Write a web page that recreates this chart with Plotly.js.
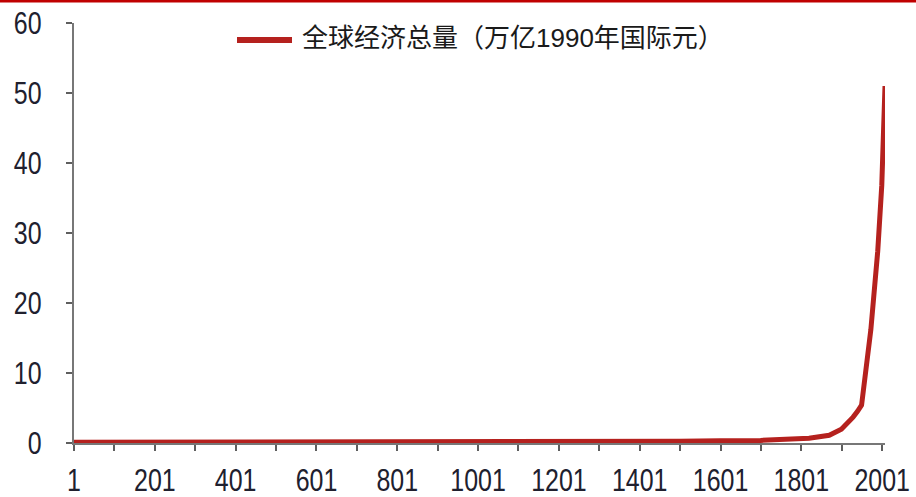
<!DOCTYPE html>
<html>
<head>
<meta charset="utf-8">
<script src="https://cdn.plot.ly/plotly-3.0.1.min.js"></script>
<style>
  html, body { margin: 0; padding: 0; background: #fff; }
  #chart { width: 916px; height: 497px; }
</style>
</head>
<body>
<div id="chart"></div>
<script>
// World GDP, trillions of 1990 international dollars
const years = [1, 1000, 1500, 1600, 1700, 1820, 1870, 1900, 1913, 1929, 1940, 1950, 1973, 1980, 1990, 2000, 2003, 2008];
const gdp   = [0.105, 0.121, 0.248, 0.331, 0.371, 0.694, 1.101, 1.973, 2.705, 3.696, 4.514, 5.4, 16.2, 20.3, 27.4, 36.8, 40.9, 51.0];

const seriesName = '全球经济总量（万亿1990年国际元）';

// x ticks every 100 years, labelled every 200
const tickYears = [1, 101, 201, 301, 401, 501, 601, 701, 801, 901, 1001, 1101, 1201, 1301, 1401, 1501, 1601, 1701, 1801, 1901, 2001];
const tickLabels = ['1', '', '201', '', '401', '', '601', '', '801', '', '1001', '', '1201', '', '1401', '', '1601', '', '1801', '', '2001'];
const yTicks = [0, 10, 20, 30, 40, 50, 60];

const lineColor = '#B5211E';
const numFont = 'Liberation Sans, Arial, sans-serif';
const labelSqueeze = 0.78; // horizontal condensing of the tick numerals

const trace = {
  x: years,
  y: gdp,
  type: 'scatter',
  mode: 'lines',
  name: seriesName,
  line: { color: lineColor, width: 5 },
  showlegend: false,
  hoverinfo: 'x+y'
};

const layout = {
  width: 916,
  height: 497,
  margin: { l: 74, r: 31, t: 23, b: 54 },
  paper_bgcolor: '#ffffff',
  plot_bgcolor: '#ffffff',
  showlegend: false,
  xaxis: {
    range: [1, 2008],
    tickmode: 'array',
    tickvals: tickYears,
    ticktext: tickLabels,
    ticks: 'outside',
    ticklen: 6,
    tickwidth: 2,
    tickcolor: '#5e5e5e',
    showline: true,
    linecolor: '#777777',
    linewidth: 2,
    showgrid: false,
    zeroline: false,
    ticklabelstandoff: 2,
    ticklabeloverflow: 'allow',
    tickfont: { family: numFont, size: 32, color: '#20202e' }
  },
  yaxis: {
    range: [0, 60],
    tickmode: 'array',
    tickvals: yTicks,
    ticks: 'outside',
    ticklen: 6,
    tickwidth: 2,
    tickcolor: '#5e5e5e',
    showline: true,
    linecolor: '#777777',
    linewidth: 2,
    showgrid: false,
    zeroline: false,
    ticklabelstandoff: 18,
    ticklabeloverflow: 'allow',
    tickfont: { family: numFont, size: 32, color: '#20202e' }
  },
  shapes: [
    // red rule along the top edge
    { type: 'line', xref: 'paper', yref: 'paper', x0: -0.0913, x1: 1.0395, y0: 1.0524, y1: 1.0524,
      line: { color: '#C00000', width: 3 } },
    // legend swatch
    { type: 'line', xref: 'paper', yref: 'paper', x0: 0.201, x1: 0.2688, y0: 0.9595, y1: 0.9595,
      line: { color: lineColor, width: 6 } }
  ],
  annotations: [
    { text: seriesName, xref: 'paper', yref: 'paper', x: 0.2787, y: 0.9645,
      xanchor: 'left', yanchor: 'middle', showarrow: false,
      font: { family: 'Liberation Sans, Noto Sans CJK SC, sans-serif', size: 26, color: '#1a1a1a' } }
  ]
};

// condense each tick label horizontally about its own anchor point
function condenseTickLabels(gd) {
  gd.querySelectorAll('.xtick text, .ytick text').forEach(function (t) {
    const ax = parseFloat(t.getAttribute('x')) || 0;
    const ay = parseFloat(t.getAttribute('y')) || 0;
    const base = t.getAttribute('transform') || '';
    t.setAttribute('transform',
      base + ' translate(' + ax + ',' + ay + ') scale(' + labelSqueeze + ',1) translate(' + (-ax) + ',' + (-ay) + ')');
  });
}

Plotly.newPlot('chart', [trace], layout, { displayModeBar: false, staticPlot: true })
  .then(condenseTickLabels);
</script>
</body>
</html>
